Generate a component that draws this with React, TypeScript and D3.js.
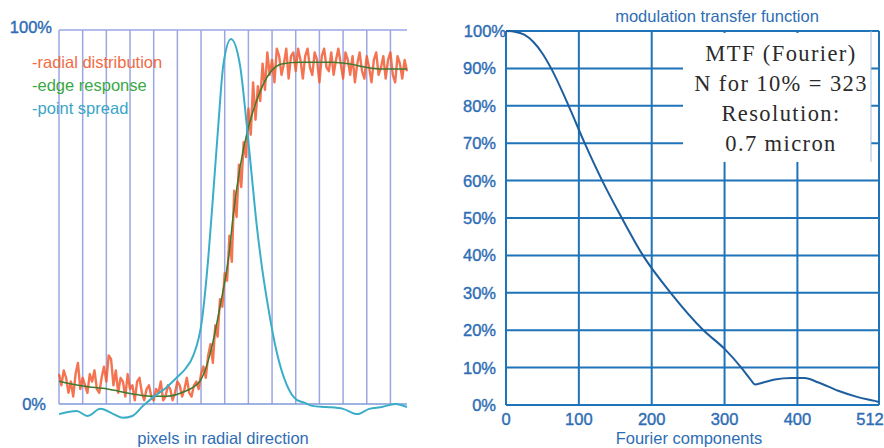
import * as d3 from "d3";

// left panel: edge profile (x in pixels, y in %)
const psfX = [0, 15, 24, 35, 46, 54, 62, 71, 80, 91, 100, 107, 113.5, 120.6, 126.1, 130.4, 134.6, 138.8, 145.3, 152.9, 158.6, 162.8, 167, 171.2, 176.8, 183.9, 192.4, 200.8, 207.8, 214, 226, 240, 252, 262, 273, 284, 294];
const psfY = [-2.7, -1.9, -3.2, -1.3, -2.7, -3.7, -3.2, -0.5, 1.9, 4.5, 7.2, 9.5, 13, 22, 39, 56.7, 74.6, 90.6, 97.6, 90.6, 74.6, 61.2, 47.9, 37.2, 25.7, 13.9, 5.1, 1.1, 0.3, -0.5, -0.8, -1.3, -2.7, -1.3, -0.8, 0, -0.8];

const edgeX = [0, 20, 41, 62, 77, 91, 105, 119, 127, 136, 144, 147, 153, 160, 168, 178, 189, 203, 218, 231, 246, 260, 273, 294];
const edgeY = [6.1, 4.8, 4.0, 2.7, 2.1, 2.1, 3.2, 6.1, 12.6, 26, 41, 50, 63.4, 74, 82, 88.5, 91, 91.4, 91.4, 91.4, 90.9, 90, 89.6, 89.6];

// raw radial distribution, one sample every 2 pixels
const radialStep = 2;
const radialY = [
  8, 5, 9, 7, 3, 6, 2, 8, 11, 4, 7, 5, 3, 8, 6, 9, 4, 3, 7, 10,
  6, 13, 12, 5, 9, 3, 7, 6, 2, 8, 4, 5, 1, 6, 7, 3, 1, 4, 5, 2,
  1, 4, 3, 6, 1, 2, 5, 4, 1, 3, 6, 5, 2, 4, 7, 3, 2, 5, 6, 4,
  8, 10, 7, 13, 16, 11, 21, 18, 28, 26, 35, 33, 45, 38, 57, 50, 64, 58, 70, 66,
  79, 72, 86, 76, 85, 81, 91, 84, 94, 88, 92, 86, 95, 93, 88, 91, 95, 87, 93, 94,
  89, 95, 92, 87, 93, 95, 90, 88, 94, 92, 86, 93, 95, 90, 89, 94, 88, 92, 95, 91,
  87, 94, 92, 88, 93, 86, 91, 94, 89, 87, 93, 90, 86, 92, 94, 88, 90, 93, 87, 92,
  94, 88, 86, 93, 91, 87, 92, 89,
];

const leftGridX = [0, 20, 40, 60, 80, 100, 120, 140, 160, 180, 200, 220, 240, 260, 280];
const legend = [
  { label: "-radial distribution", color: "#f26a45" },
  { label: "-edge response", color: "#3aa845" },
  { label: "-point spread", color: "#3aa6c6" },
];

// right panel: MTF
const mtfX = [0, 12, 25, 38, 50, 62, 86, 108, 132, 159, 188, 226, 271, 300, 323, 335, 342, 351, 369, 392, 410, 428, 456, 483, 506, 512];
const mtfY = [100, 99.8, 99, 97, 94, 90, 80, 70, 60, 50, 40, 30, 20, 15, 10, 7, 5.5, 5.9, 6.8, 7.2, 7.2, 6.1, 3.8, 2.1, 1.1, 0.8];
const mtfXTicks = [0, 100, 200, 300, 400, 512];
const mtfYTicks = [0, 10, 20, 30, 40, 50, 60, 70, 80, 90, 100];
const boxLines = ["MTF (Fourier)", "N for 10% = 323", "Resolution:", "0.7 micron"];

const sans = "Arial, 'Liberation Sans', sans-serif";
const blue = "#2e6db4";

export default function App() {
  const width = 884;
  const height = 448;

  // left scales
  const lx = d3.scaleLinear([0, 294], [59, 407]);
  const ly = d3.scaleLinear([0, 100], [404, 30]);
  const psfPath = d3
    .line<number>()
    .curve(d3.curveMonotoneX)
    .x((_, i) => lx(psfX[i]))
    .y((d) => ly(d))(psfY);
  const edgePath = d3
    .line<number>()
    .curve(d3.curveMonotoneX)
    .x((_, i) => lx(edgeX[i]))
    .y((d) => ly(d))(edgeY);
  const radialPath = d3
    .line<number>()
    .x((_, i) => lx(i * radialStep))
    .y((d) => ly(d))(radialY);

  // right scales
  const rx = d3.scaleLinear([0, 512], [506, 879]);
  const ry = d3.scaleLinear([0, 100], [405, 31]);
  const mtfPath = d3
    .line<number>()
    .curve(d3.curveMonotoneX)
    .x((_, i) => rx(mtfX[i]))
    .y((d) => ry(d))(mtfY);
  const boxLeft = rx(243);
  const boxRight = rx(501);
  const boxBottom = ry(65);

  return (
    <svg
      width={width}
      height={height}
      style={{ position: "absolute", left: 0, top: 0, background: "#fff" }}
    >
      {/* ---------- left panel ---------- */}
      <g stroke="#9ba6e2" strokeWidth={1.5}>
        {leftGridX.map((v) => (
          <line key={v} x1={lx(v)} x2={lx(v)} y1={ly(100)} y2={ly(0)} />
        ))}
        <line x1={lx(0)} x2={lx(294)} y1={ly(100)} y2={ly(100)} />
        <line x1={lx(0)} x2={lx(294)} y1={ly(0)} y2={ly(0)} stroke="#7f9ad8" />
      </g>
      <path d={radialPath ?? ""} fill="none" stroke="#f25a32" strokeWidth={2.4} strokeLinejoin="round" opacity={0.85} />
      <path d={edgePath ?? ""} fill="none" stroke="#3d7a2e" strokeWidth={1.5} />
      <path d={psfPath ?? ""} fill="none" stroke="#3aaec8" strokeWidth={2} />
      <g fontFamily={sans} fontSize={16.5}>
        <g fill={blue} stroke={blue} strokeWidth={0.4}>
          <text x={lx(0) - 7} y={ly(100) + 3} textAnchor="end">100%</text>
          <text x={lx(0) - 13} y={ly(0) + 6} textAnchor="end">0%</text>
        </g>
        {legend.map((d, i) => (
          <text key={d.label} x={32} y={68 + i * 23} fill={d.color}>
            {d.label}
          </text>
        ))}
        <text x={223} y={444} textAnchor="middle" fill={blue}>
          pixels in radial direction
        </text>
      </g>

      {/* ---------- right panel ---------- */}
      <g stroke="#1f73b8" strokeWidth={2}>
        {mtfYTicks.map((v) => (
          <line key={v} x1={rx(0)} x2={rx(512)} y1={ry(v)} y2={ry(v)} />
        ))}
        {mtfXTicks.map((v) => (
          <line key={v} x1={rx(v)} x2={rx(v)} y1={ry(0)} y2={ry(100)} />
        ))}
      </g>
      <rect x={boxLeft} y={ry(100) + 2} width={boxRight - boxLeft} height={boxBottom - ry(100) - 2} fill="#fff" />
      <line x1={boxRight} x2={boxRight} y1={ry(100)} y2={boxBottom} stroke="#9cc0e4" strokeWidth={1} />
      <path d={mtfPath ?? ""} fill="none" stroke="#1d5f9e" strokeWidth={2} />
      <g fontFamily={sans} fontSize={16.5} fill={blue} stroke={blue} strokeWidth={0.4}>
        {mtfYTicks.map((v) => (
          <text key={v} x={v === 100 ? rx(0) : rx(0) - 10} y={ry(v) + 6} textAnchor="end">
            {v}%
          </text>
        ))}
        {mtfXTicks.map((v) => (
          <text key={v} x={v === 512 ? rx(v) - 9 : rx(v)} y={425} textAnchor="middle">
            {v}
          </text>
        ))}
      </g>
      <g fontFamily={sans} fill={blue}>
        <text x={717} y={22} textAnchor="middle" fontSize={16.5}>
          modulation transfer function
        </text>
        <text x={689} y={444} textAnchor="middle" fontSize={16.5}>
          Fourier components
        </text>
      </g>
      <g fontFamily="'Liberation Serif', 'Times New Roman', serif" fontSize={22.5} fill="#2b2b2b" letterSpacing={1.4}>
        {boxLines.map((t, i) => (
          <text key={t} x={(boxLeft + boxRight) / 2 + 4} y={61 + i * 30} textAnchor="middle">
            {t}
          </text>
        ))}
      </g>
    </svg>
  );
}
